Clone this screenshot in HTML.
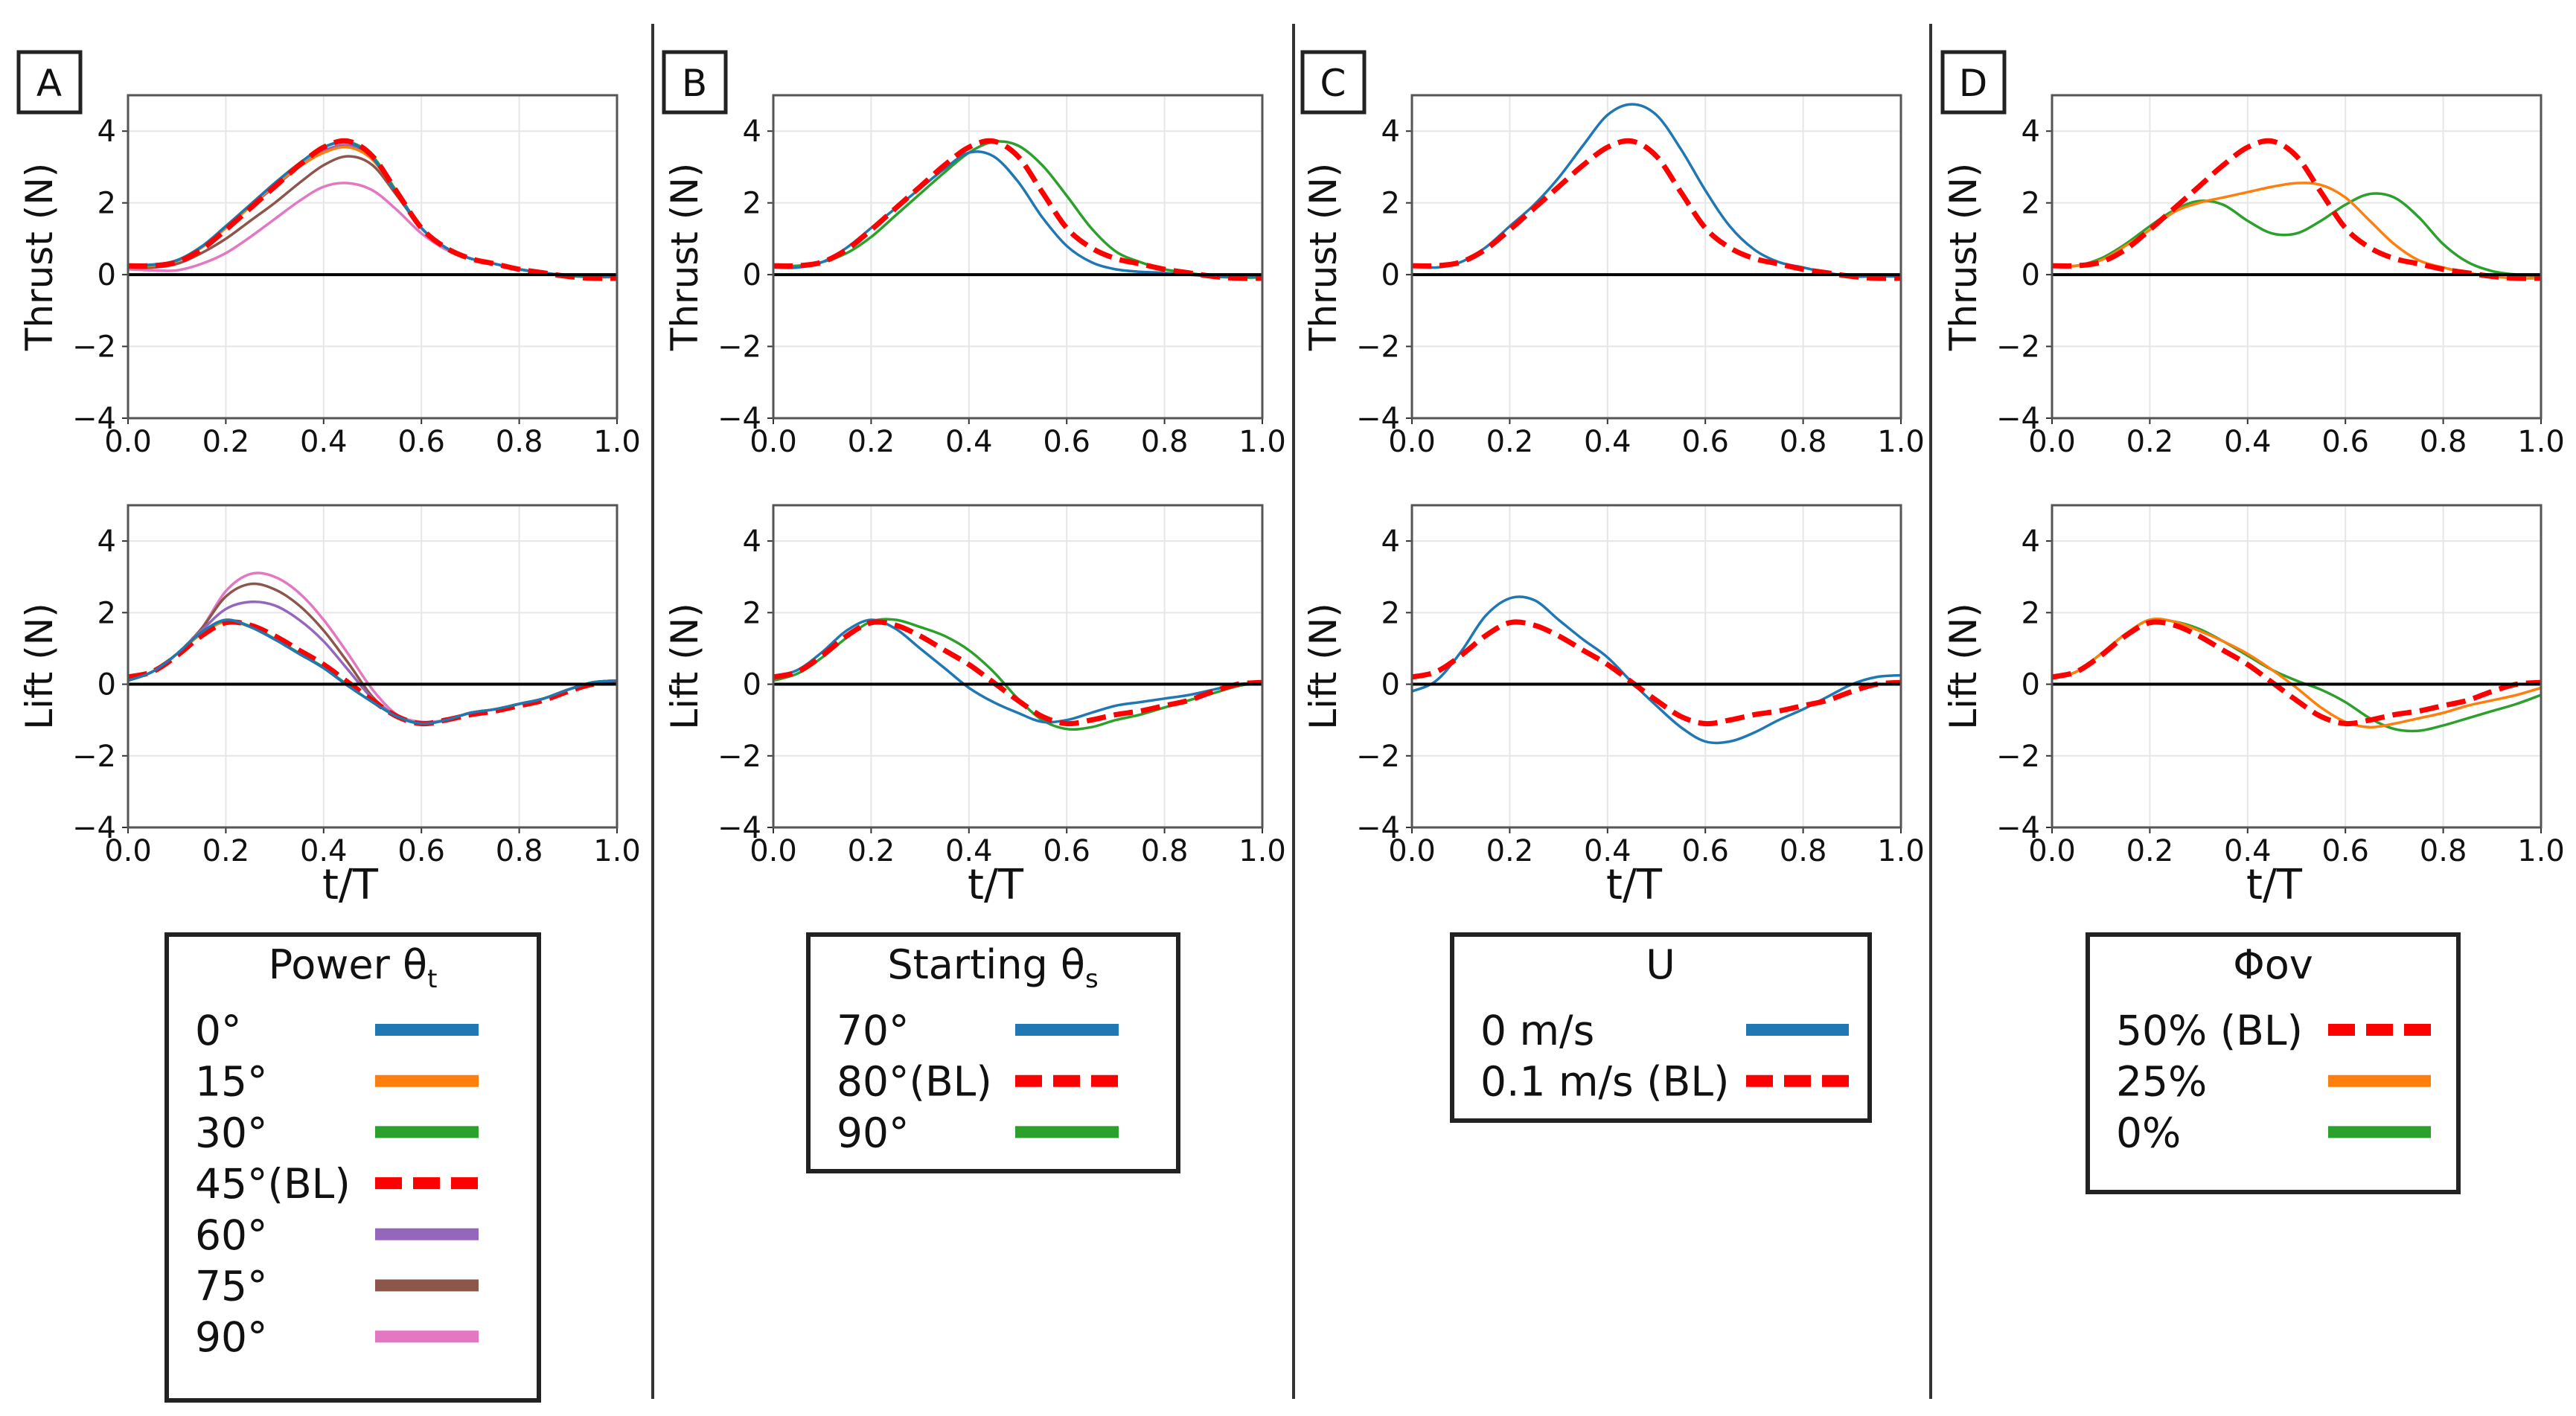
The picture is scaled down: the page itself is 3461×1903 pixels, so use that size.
<!DOCTYPE html>
<html><head><meta charset="utf-8"><style>
html,body{margin:0;padding:0;background:#fff}
svg{display:block}
text{font-family:"DejaVu Sans","Liberation Sans",sans-serif;fill:#111}
</style></head><body>
<svg id="fig" width="3461" height="1903" viewBox="0 0 3461 1903" xmlns="http://www.w3.org/2000/svg"></svg>
<script>
const tVals=[0,0.05,0.1,0.15,0.2,0.25,0.3,0.35,0.4,0.45,0.5,0.55,0.6,0.65,0.7,0.75,0.8,0.85,0.9,0.95,1.0];
const xTicks=[0,0.2,0.4,0.6,0.8,1.0];
const xTickLabels=["0.0","0.2","0.4","0.6","0.8","1.0"];
const yTicks=[-4,-2,0,2,4];
const yTickLabels=["\u22124","\u22122","0","2","4"];
// baseline
const thrustBL=[0.25,0.25,0.35,0.7,1.25,1.85,2.45,3.05,3.55,3.72,3.3,2.3,1.3,0.75,0.45,0.3,0.15,0.05,-0.05,-0.1,-0.1];
const liftBL=[0.2,0.35,0.8,1.35,1.72,1.65,1.35,0.95,0.55,0.05,-0.45,-0.9,-1.1,-1.0,-0.85,-0.75,-0.6,-0.45,-0.2,0.0,0.05];
// panel A
const thrustA0=[0.28,0.28,0.4,0.78,1.35,1.95,2.55,3.1,3.55,3.68,3.25,2.25,1.3,0.75,0.45,0.3,0.15,0.05,-0.02,-0.05,-0.05];
const thrustA15=[0.25,0.25,0.38,0.75,1.3,1.9,2.5,3.0,3.4,3.55,3.2,2.25,1.3,0.75,0.45,0.3,0.15,0.05,-0.03,-0.07,-0.07];
const thrustA30=[0.27,0.27,0.4,0.78,1.35,1.95,2.55,3.1,3.55,3.7,3.3,2.3,1.3,0.75,0.45,0.3,0.15,0.05,-0.03,-0.06,-0.06];
const thrustA60=[0.25,0.25,0.38,0.75,1.3,1.9,2.45,3.0,3.45,3.6,3.25,2.3,1.3,0.75,0.45,0.3,0.15,0.05,-0.03,-0.06,-0.06];
const thrustA75=[0.2,0.2,0.3,0.6,1.0,1.5,2.0,2.55,3.05,3.3,3.05,2.2,1.3,0.75,0.45,0.3,0.15,0.05,-0.03,-0.06,-0.06];
const thrustA90=[0.15,0.12,0.12,0.3,0.6,1.05,1.55,2.05,2.45,2.55,2.35,1.8,1.15,0.7,0.45,0.3,0.15,0.05,-0.03,-0.06,-0.06];
const liftA0=[0.1,0.35,0.85,1.45,1.8,1.6,1.25,0.85,0.45,-0.05,-0.5,-0.9,-1.1,-1.0,-0.8,-0.7,-0.55,-0.4,-0.15,0.05,0.1];
const liftA15=[0.1,0.35,0.85,1.4,1.75,1.6,1.25,0.85,0.45,-0.05,-0.5,-0.9,-1.1,-1.0,-0.8,-0.7,-0.55,-0.4,-0.15,0.05,0.1];
const liftA30=[0.1,0.35,0.85,1.45,1.78,1.62,1.27,0.87,0.47,-0.03,-0.5,-0.9,-1.1,-1.0,-0.8,-0.7,-0.55,-0.4,-0.15,0.05,0.1];
const liftA60=[0.1,0.35,0.85,1.5,2.1,2.3,2.2,1.8,1.2,0.4,-0.4,-0.9,-1.1,-1.0,-0.8,-0.7,-0.55,-0.4,-0.15,0.05,0.1];
const liftA75=[0.1,0.35,0.85,1.55,2.45,2.8,2.65,2.2,1.5,0.6,-0.35,-0.9,-1.1,-1.0,-0.8,-0.7,-0.55,-0.4,-0.15,0.05,0.1];
const liftA90=[0.1,0.35,0.85,1.55,2.6,3.08,3.0,2.55,1.8,0.85,-0.15,-0.85,-1.05,-1.0,-0.8,-0.7,-0.55,-0.4,-0.15,0.0,0.05];
// panel B
const thrustB70=[0.2,0.2,0.35,0.75,1.3,1.85,2.4,2.95,3.4,3.3,2.6,1.6,0.8,0.35,0.15,0.08,0.05,0.0,-0.05,-0.05,-0.05];
const thrustB90=[0.25,0.25,0.35,0.6,1.05,1.65,2.25,2.85,3.4,3.7,3.6,3.05,2.2,1.3,0.65,0.35,0.15,0.05,-0.05,-0.08,-0.08];
const liftB70=[0.2,0.4,0.9,1.5,1.8,1.55,1.0,0.45,-0.1,-0.5,-0.8,-1.05,-1.0,-0.8,-0.6,-0.5,-0.4,-0.3,-0.15,0.0,0.05];
const liftB90=[0.1,0.3,0.75,1.3,1.75,1.8,1.6,1.35,0.95,0.35,-0.4,-1.0,-1.25,-1.2,-1.0,-0.85,-0.65,-0.45,-0.25,-0.05,0.05];
// panel C
const thrustC0=[0.25,0.2,0.35,0.75,1.35,1.95,2.7,3.6,4.45,4.75,4.45,3.5,2.35,1.35,0.7,0.35,0.2,0.05,-0.05,-0.05,-0.05];
const liftC0=[-0.2,0.1,0.9,1.9,2.4,2.35,1.8,1.25,0.75,0.05,-0.6,-1.2,-1.6,-1.6,-1.35,-1.0,-0.7,-0.35,0.0,0.2,0.25];
// panel D
const thrustD25=[0.25,0.25,0.4,0.8,1.25,1.75,2.0,2.15,2.3,2.45,2.55,2.5,2.15,1.5,0.85,0.4,0.2,0.05,-0.05,-0.1,-0.1];
const thrustD0=[0.25,0.25,0.45,0.85,1.35,1.8,2.05,1.95,1.5,1.15,1.15,1.5,1.95,2.25,2.15,1.6,0.85,0.35,0.1,0.0,-0.05];
const liftD25=[0.15,0.35,0.85,1.4,1.8,1.75,1.5,1.2,0.85,0.4,-0.1,-0.65,-1.05,-1.2,-1.1,-0.95,-0.8,-0.6,-0.45,-0.3,-0.1];
const liftD0=[0.15,0.35,0.85,1.4,1.8,1.75,1.55,1.2,0.8,0.4,0.1,-0.15,-0.5,-0.95,-1.25,-1.3,-1.15,-0.95,-0.75,-0.55,-0.3];

const C={blue:"#1f77b4",orange:"#ff7f0e",green:"#2ca02c",red:"#ff0000",purple:"#9467bd",brown:"#8c564b",pink:"#e377c2"};
const NS="http://www.w3.org/2000/svg";
const svg=document.getElementById('fig');
function mk(tag,attrs,parent){const e=document.createElementNS(NS,tag);for(const k in attrs)e.setAttribute(k,attrs[k]);(parent||svg).appendChild(e);return e;}
function txt(s,attrs,parent){const e=mk('text',attrs,parent);e.textContent=s;return e;}

const axLeft=[172,1039,1897,2757];
const axW=657;
const rows=[{top:128,bot:562,label:"Thrust (N)"},{top:679,bot:1112,label:"Lift (N)"}];
const panels=[
 {name:"A",thrust:[[thrustA90,C.pink],[thrustA75,C.brown],[thrustA60,C.purple],[thrustA15,C.orange],[thrustA30,C.green],[thrustA0,C.blue],[thrustBL,"BL"]],
  lift:[[liftA90,C.pink],[liftA75,C.brown],[liftA60,C.purple],[liftA15,C.orange],[liftA30,C.green],[liftBL,"BL"],[liftA0,C.blue]]},
 {name:"B",thrust:[[thrustB90,C.green],[thrustB70,C.blue],[thrustBL,"BL"]],lift:[[liftB90,C.green],[liftB70,C.blue],[liftBL,"BL"]]},
 {name:"C",thrust:[[thrustC0,C.blue],[thrustBL,"BL"]],lift:[[liftC0,C.blue],[liftBL,"BL"]]},
 {name:"D",thrust:[[thrustD0,C.green],[thrustD25,C.orange],[thrustBL,"BL"]],lift:[[liftD0,C.green],[liftD25,C.orange],[liftBL,"BL"]]}
];
function pathD(xs,ys){
 let d="M"+xs[0].toFixed(1)+","+ys[0].toFixed(1);
 for(let i=0;i<xs.length-1;i++){
  const x0=xs[Math.max(i-1,0)],y0=ys[Math.max(i-1,0)],x1=xs[i],y1=ys[i],x2=xs[i+1],y2=ys[i+1],x3=xs[Math.min(i+2,xs.length-1)],y3=ys[Math.min(i+2,xs.length-1)];
  d+=" C"+(x1+(x2-x0)/6).toFixed(1)+","+(y1+(y2-y0)/6).toFixed(1)+" "+(x2-(x3-x1)/6).toFixed(1)+","+(y2-(y3-y1)/6).toFixed(1)+" "+x2.toFixed(1)+","+y2.toFixed(1);
 }
 return d;
}
panels.forEach((p,pi)=>{
 const L=axLeft[pi];
 const g=mk('g',{});
 
 
 const lb=mk('rect',{x:L-149+2,y:70,width:83,height:81,fill:"#fff",stroke:"#222","stroke-width":5},g);
 
 
 const lt=txt(p.name,{x:L-149+43,y:129,"text-anchor":"middle","font-size":50},g);
 
 
 rows.forEach((r,ri)=>{
  const sx=v=>L+v*axW;
  const sy=v=>r.bot-(v+4)/9*(r.bot-r.top);
  const ag=mk('g',{},g);
  
  
  mk('rect',{x:L,y:r.top,width:axW,height:r.bot-r.top,fill:"#fff"},ag);
  xTicks.forEach((v,i)=>{
   mk('line',{x1:sx(v),x2:sx(v),y1:r.top,y2:r.bot,stroke:"#e6e6e6","stroke-width":2},ag);
   mk('line',{x1:sx(v),x2:sx(v),y1:r.bot,y2:r.bot+8,stroke:"#333","stroke-width":2},ag);
   const t=txt(xTickLabels[i],{x:sx(v),y:r.bot+45,"text-anchor":"middle","font-size":40},ag);
   
   
  });
  yTicks.forEach((v,i)=>{
   mk('line',{x1:L,x2:L+axW,y1:sy(v),y2:sy(v),stroke:"#e6e6e6","stroke-width":2},ag);
   mk('line',{x1:L-8,x2:L,y1:sy(v),y2:sy(v),stroke:"#333","stroke-width":2},ag);
   const t=txt(yTickLabels[i],{x:L-16,y:sy(v)+14,"text-anchor":"end","font-size":40},ag);
   
   
  });
  const series=ri===0?p.thrust:p.lift;
  series.forEach(s=>{
   const xs=tVals.map(sx), ys=s[0].map(sy);
   const bl=s[1]==="BL";
   const pa=mk('path',{d:pathD(xs,ys),fill:"none",stroke:bl?C.red:s[1],"stroke-width":bl?7:3.5,"stroke-dasharray":bl?"26 11":"none","stroke-linejoin":"round"},ag);
   
   
  });
  mk('line',{x1:L,x2:L+axW,y1:sy(0),y2:sy(0),stroke:"#000","stroke-width":4},ag);
  mk('rect',{x:L,y:r.top,width:axW,height:r.bot-r.top,fill:"none",stroke:"#555","stroke-width":3},ag);
  const yl=txt(r.label,{x:0,y:0,"text-anchor":"middle","font-size":50,transform:"translate("+(L-102)+","+((r.top+r.bot)/2)+") rotate(-90)"},ag);
  
  
 });
 const xl=txt("t/T",{x:L+axW/2-30,y:1208,"text-anchor":"middle","font-size":56},g);
 
 
});
[877,1738,2594].forEach(x=>{
 const l=mk('line',{x1:x,x2:x,y1:32,y2:1880,stroke:"#333","stroke-width":4});
 
 
});
// legends
const legends=[
 {x:224,y:1256,w:500,h:626,cx:474,title:"Power θ",sub:"t",items:[["0°",C.blue,0],["15°",C.orange,0],["30°",C.green,0],["45°(BL)",C.red,1],["60°",C.purple,0],["75°",C.brown,0],["90°",C.pink,0]],lx:504,lw:139},
 {x:1086,y:1256,w:497,h:318,cx:1334,title:"Starting θ",sub:"s",items:[["70°",C.blue,0],["80°(BL)",C.red,1],["90°",C.green,0]],lx:1364,lw:139},
 {x:1951,y:1256,w:561,h:250,cx:2231,title:"U",sub:"",items:[["0 m/s",C.blue,0],["0.1 m/s (BL)",C.red,1]],lx:2346,lw:138},
 {x:2805,y:1256,w:498,h:346,cx:3054,title:"Φov",sub:"",items:[["50% (BL)",C.red,1],["25%",C.orange,0],["0%",C.green,0]],lx:3128,lw:138}
];
legends.forEach(lg=>{
 const g=mk('g',{});
 
 
 mk('rect',{x:lg.x,y:lg.y,width:lg.w,height:lg.h,fill:"#fff",stroke:"#222","stroke-width":6},g);
 const t=txt(lg.title,{x:lg.cx,y:1315,"text-anchor":"middle","font-size":54},g);
 if(lg.sub){const ts=mk('tspan',{"font-size":34,dy:12},t);ts.textContent=lg.sub;}
 
 
 lg.items.forEach((it,i)=>{
  const cy=1384+i*68.7;
  const lt=txt(it[0],{x:lg.x+38,y:cy+20,"font-size":55},g);
  
  
  const ln=mk('line',{x1:lg.lx,x2:lg.lx+lg.lw,y1:cy,y2:cy,stroke:it[1],"stroke-width":16,"stroke-dasharray":it[2]?"36 15":"none"},g);
  
  
 });
});
</script>
</body></html>
